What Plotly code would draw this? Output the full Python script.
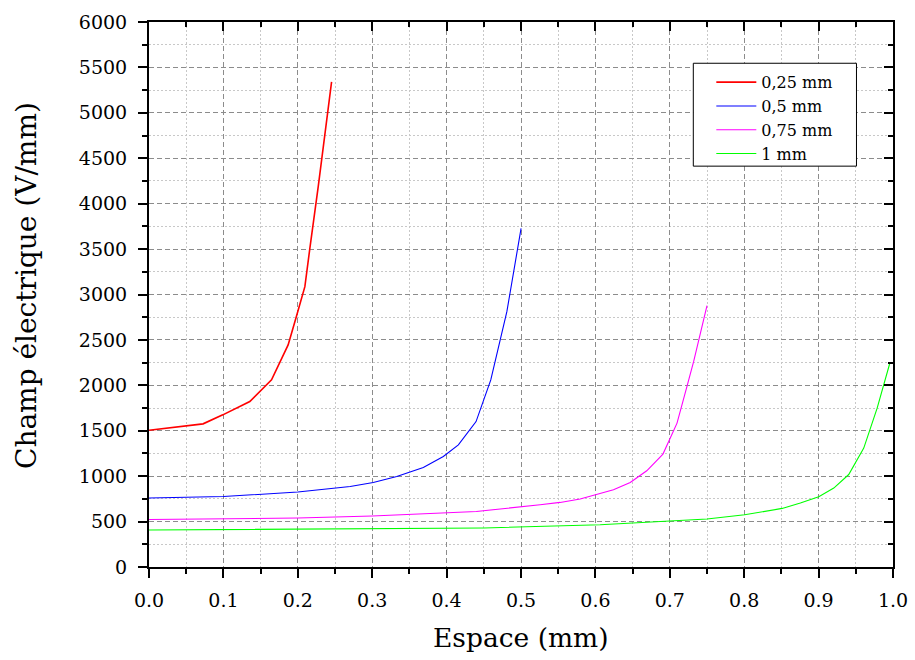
import plotly.graph_objects as go

# ---- data ----
x_025 = [0.0, 0.0727, 0.0992, 0.1355, 0.1647, 0.187, 0.198, 0.2095, 0.2162, 0.2274, 0.2454]
y_025 = [1505, 1576, 1675, 1821, 2060, 2445, 2756, 3086, 3508, 4186, 5340]

x_05 = [0.0, 0.1, 0.2, 0.2704, 0.3014, 0.333, 0.3687, 0.3956, 0.4158, 0.4396, 0.4594, 0.481, 0.5001]
y_05 = [759, 776, 825, 886, 930, 996, 1095, 1216, 1345, 1601, 2060, 2811, 3728]

x_075 = [0.0, 0.2, 0.3, 0.337, 0.44, 0.5257, 0.5526, 0.5795, 0.602, 0.6243, 0.6468, 0.669,
         0.6908, 0.7097, 0.723, 0.732, 0.75]
y_075 = [523, 539, 561, 574, 611, 685, 711, 748, 795, 850, 931, 1059, 1243, 1584, 1986, 2261, 2877]

x_1 = [0.0, 0.3, 0.45, 0.6064, 0.651, 0.7006, 0.75, 0.8006, 0.851, 0.8755, 0.9002, 0.9204,
       0.9405, 0.9607, 0.9787, 0.9957]
y_1 = [407, 418, 430, 465, 484, 506, 528, 575, 645, 704, 773, 869, 1018, 1309, 1749, 2243]

series_names = ["0,25 mm", "0,5 mm", "0,75 mm", "1 mm"]
series_colors = ["#FF0000", "#0000FF", "#FF00FF", "#00FF00"]
series_widths = [1.6, 1.1, 1.1, 1.1]
series_x = [x_025, x_05, x_075, x_1]
series_y = [y_025, y_05, y_075, y_1]

x_range = [0.0, 1.0]
y_range = [0, 6000]
x_title = "Espace (mm)"
y_title = "Champ électrique (V/mm)"

FONT = "DejaVu Serif"

fig = go.Figure()
for name, col, w, xs, ys in zip(series_names, series_colors, series_widths, series_x, series_y):
    fig.add_trace(go.Scatter(x=xs, y=ys, mode="lines", name=name,
                             line=dict(color=col, width=w)))

# invisible trace on mirror axes so the frame axes get drawn
fig.add_trace(go.Scatter(x=[None], y=[None], xaxis="x2", yaxis="y2",
                         showlegend=False, hoverinfo="skip"))

grid_major = dict(gridcolor="#8c8c8c", griddash="5px,3px", gridwidth=1)
minor_common = dict(showgrid=True, gridcolor="#c8c8c8", griddash="2px,2px",
                    gridwidth=1, ticklen=5, tickwidth=2, tickcolor="black")

fig.update_layout(
    width=915, height=660,
    margin=dict(l=149, r=22, t=22, b=93, autoexpand=False),
    paper_bgcolor="white", plot_bgcolor="white",
    font=dict(family=FONT, color="black", size=19),
    showlegend=True,
    legend=dict(x=0.7558, y=0.9206, xanchor="left", yanchor="top",
                bgcolor="rgba(0,0,0,0)", borderwidth=0,
                font=dict(family=FONT, size=16), tracegroupgap=0,
                itemwidth=40),
    xaxis=dict(range=x_range, dtick=0.1, tick0=0, tickformat=".1f", automargin=False,
               showline=True, linecolor="black", linewidth=2,
               ticks="outside", ticklen=9, tickwidth=2, tickcolor="black",
               showgrid=True, **grid_major, zeroline=False, ticklabelstandoff=6,
               minor=dict(dtick=0.05, ticks="outside", **minor_common),
               tickfont=dict(family=FONT, size=19)),
    yaxis=dict(range=y_range, dtick=500, tick0=0, automargin=False,
               showline=True, linecolor="black", linewidth=2,
               ticks="outside", ticklen=9, tickwidth=2, tickcolor="black",
               showgrid=True, **grid_major, zeroline=False, ticklabelstandoff=7,
               minor=dict(dtick=250, ticks="outside", **minor_common),
               tickfont=dict(family=FONT, size=19)),
    xaxis2=dict(range=x_range, overlaying="x", side="top", anchor="y", automargin=False,
                dtick=0.1, tick0=0, showticklabels=False,
                showline=True, linecolor="black", linewidth=2,
                ticks="inside", ticklen=9, tickwidth=2, tickcolor="black",
                showgrid=False, zeroline=False,
                minor=dict(dtick=0.05, ticks="inside", ticklen=5, tickwidth=2,
                           tickcolor="black", showgrid=False)),
    yaxis2=dict(range=y_range, overlaying="y", side="right", anchor="x", automargin=False,
                dtick=500, tick0=0, showticklabels=False,
                showline=True, linecolor="black", linewidth=2,
                ticks="inside", ticklen=9, tickwidth=2, tickcolor="black",
                showgrid=False, zeroline=False,
                minor=dict(dtick=250, ticks="inside", ticklen=5, tickwidth=2,
                           tickcolor="black", showgrid=False)),
    shapes=[dict(type="rect", xref="x domain", yref="y domain",
                 x0=0.7316, x1=0.9509, y0=0.7355, y1=0.9243,
                 fillcolor="white", line=dict(color="black", width=1), layer="above")],
    annotations=[
        dict(text=x_title, xref="x domain", yref="y domain", x=0.5, y=-0.1296,
             xanchor="center", yanchor="middle", showarrow=False,
             font=dict(family=FONT, size=26.5)),
        dict(text=y_title, xref="x domain", yref="y domain", x=-0.1646, y=0.5165,
             xanchor="center", yanchor="middle", showarrow=False, textangle=-90,
             font=dict(family=FONT, size=28)),
    ],
)

fig.write_html("out.html", config={"displayModeBar": False},
               post_script="document.body.style.margin='0';document.body.style.padding='0';")
